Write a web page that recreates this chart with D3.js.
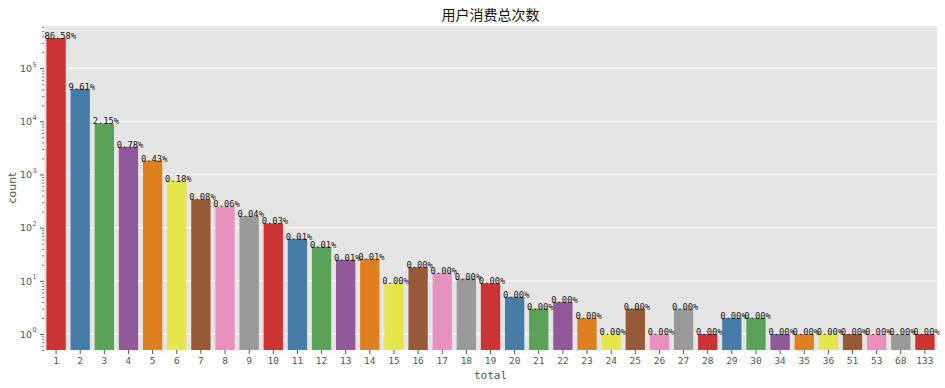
<!DOCTYPE html>
<html>
<head>
<meta charset="utf-8">
<script src="https://cdn.jsdelivr.net/npm/d3@7"></script>
<style>
  body { margin: 0; background: #fff; }
  .tick text { fill: #555; }
</style>
</head>
<body>
<div id="chart"></div>
<script>
// purchase totals (x categories) and how many users had each
const totals = ['1','2','3','4','5','6','7','8','9','10','11','12','13','14','15','16','17','18','19','20',
  '21','22','23','24','25','26','27','28','29','30','34','35','36','51','53','68','133'];
const counts = [368000, 40850, 9140, 3320, 1830, 770, 340, 250, 165, 120, 62, 44, 25, 26, 9, 18, 14, 11, 9, 5,
  3, 4, 2, 1, 3, 1, 3, 1, 2, 2, 1, 1, 1, 1, 1, 1, 1];
const palette = ['#cb3335', '#477ca8', '#59a257', '#905998', '#df7f20', '#e6e64c', '#965a38', '#e890be', '#999999'];
const yTicks = [1, 10, 100, 1000, 10000, 100000];

const W = 945, H = 388;
const margin = { top: 26, right: 8, bottom: 38, left: 44 };
const width = W - margin.left - margin.right,
      height = H - margin.top - margin.bottom;
const total = d3.sum(counts);

const svg = d3.select('#chart').append('svg')
  .attr('width', W)
  .attr('height', H);

const g = svg.append('g')
  .attr('transform', 'translate(' + margin.left + ',' + margin.top + ')');

const xScale = d3.scaleBand()
  .domain(totals)
  .range([0, width])
  .paddingInner(0.2)
  .paddingOuter(0.1);

const yScale = d3.scaleLog()
  .domain([0.5, 620000])
  .range([height, 0]);

g.append('rect')
  .attr('width', width)
  .attr('height', height)
  .style('fill', '#e5e5e5');

// horizontal grid at each decade
g.selectAll('line.grid').data(yTicks)
  .enter().append('line')
    .attr('class', 'grid')
    .attr('x1', 0).attr('x2', width)
    .attr('y1', d => yScale(d)).attr('y2', d => yScale(d))
    .style('stroke', '#fff')
    .style('stroke-width', 1);

g.selectAll('rect.bar').data(counts)
  .enter().append('rect')
    .attr('class', 'bar')
    .attr('x', (d, i) => xScale(totals[i]))
    .attr('y', d => yScale(d))
    .attr('width', xScale.bandwidth())
    .attr('height', d => height - yScale(d))
    .style('fill', (d, i) => palette[i % palette.length]);

g.selectAll('text.pct').data(counts)
  .enter().append('text')
    .attr('class', 'pct')
    .attr('x', (d, i) => xScale(totals[i]) - 2)
    .attr('y', d => yScale(d) + 1)
    .style('font-family', '"DejaVu Sans Mono", monospace')
    .style('font-size', '8.8px')
    .style('fill', '#111')
    .text(d => (d / total * 100).toFixed(2) + '%');

// x axis
const xAxis = g.append('g')
  .attr('transform', 'translate(0,' + height + ')')
  .call(d3.axisBottom(xScale).tickSize(4).tickPadding(3));
xAxis.select('.domain').remove();
xAxis.selectAll('.tick line').style('stroke', '#555');
xAxis.selectAll('.tick text')
  .style('font-family', '"DejaVu Sans Mono", monospace')
  .style('font-size', '9.5px');

// y axis, major + minor log ticks
const minor = [];
for (let p = -1; p <= 5; p++) {
  for (let m = 2; m <= 9; m++) {
    const v = m * Math.pow(10, p);
    if (v >= 0.5 && v <= 620000) minor.push(v);
  }
}
const yMinor = g.append('g')
  .call(d3.axisLeft(yScale).tickValues(minor).tickSize(2).tickFormat(''));
yMinor.select('.domain').remove();
yMinor.selectAll('.tick line').style('stroke', '#777');

const yAxis = g.append('g')
  .call(d3.axisLeft(yScale).tickValues(yTicks).tickSize(4).tickFormat(''));
yAxis.select('.domain').remove();
yAxis.selectAll('.tick text').remove();
yAxis.selectAll('.tick line').style('stroke', '#555');
yAxis.selectAll('.tick').each(function(d) {
  d3.select(this).append('text')
    .attr('x', -12)
    .attr('dy', '0.35em')
    .attr('text-anchor', 'end')
    .style('font-family', '"DejaVu Sans", sans-serif')
    .style('font-size', '9.5px')
    .style('fill', '#555')
    .text('10');
  d3.select(this).append('text')
    .attr('x', -11.5)
    .attr('y', -2)
    .attr('text-anchor', 'start')
    .style('font-family', '"DejaVu Sans", sans-serif')
    .style('font-size', '6.5px')
    .style('fill', '#555')
    .text(Math.round(Math.log10(d)));
});

svg.append('text')
  .attr('x', margin.left + width / 2)
  .attr('y', 20)
  .attr('text-anchor', 'middle')
  .style('font-family', '"Noto Sans CJK SC", sans-serif')
  .style('font-size', '14px')
  .style('fill', '#111')
  .text('用户消费总次数');

svg.append('text')
  .attr('x', margin.left + width / 2)
  .attr('y', 379)
  .attr('text-anchor', 'middle')
  .style('font-family', '"DejaVu Sans Mono", monospace')
  .style('font-size', '11px')
  .style('fill', '#555')
  .text('total');

svg.append('text')
  .attr('transform', 'translate(16,188) rotate(-90)')
  .attr('text-anchor', 'middle')
  .style('font-family', '"DejaVu Sans", sans-serif')
  .style('font-size', '11px')
  .style('fill', '#555')
  .text('count');
</script>
</body>
</html>
